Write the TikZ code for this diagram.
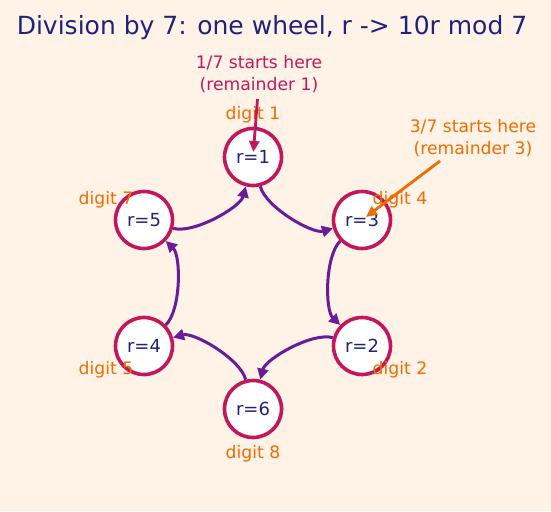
\documentclass[tikz,border=0pt]{standalone}
\usepackage{fontspec}
\setmainfont{DejaVu Sans}
\usetikzlibrary{arrows.meta}
\definecolor{bg}{HTML}{FFF2E7}
\definecolor{navy}{HTML}{1F237A}
\definecolor{crim}{HTML}{C2185B}
\definecolor{purp}{HTML}{6A1B9A}
\definecolor{orng}{HTML}{EF6C00}
\begin{document}
\begin{tikzpicture}[x=1pt,y=-1pt,
  state/.style={circle,draw=crim,fill=white,line width=3.6pt,minimum size=57pt,inner sep=0pt,
    text=navy,font=\fontsize{18}{20}\selectfont},
  digitlbl/.style={text=orng,font=\fontsize{17.2}{20}\selectfont,inner sep=0pt},
  flow/.style={draw=purp,line width=3pt,-{Stealth[length=11pt,width=11pt,inset=0pt]},
    bend right=46,looseness=0.65},
  note/.style={font=\fontsize{17.2}{22}\selectfont,align=center,inner sep=0pt},
  pointer/.style={line width=2.8pt,-{Stealth[length=11pt,width=10pt,inset=0pt]},shorten >=5pt}]
\useasboundingbox[fill=bg] (0,0) rectangle (551,511);
\node[text=navy,font=\fontsize{25}{28}\selectfont,anchor=base,inner sep=0pt] (title) at (272,35)
  {Division by 7: one wheel, r -> 10r mod 7};
% states
\node[state] (n1) at (253,157) {r=1};
\node[state] (n3) at (362,220) {r=3};
\node[state] (n2) at (362,346) {r=2};
\node[state] (n6) at (253,409) {r=6};
\node[state] (n4) at (144,346) {r=4};
\node[state] (n5) at (144,220) {r=5};
% transitions
\draw[flow] (n1) to (n3);
\draw[flow] (n3) to (n2);
\draw[flow] (n2) to (n6);
\draw[flow] (n6) to (n4);
\draw[flow] (n4) to (n5);
\draw[flow] (n5) to (n1);
% digit labels
\node[digitlbl] (d1) at (253,115) {digit 1};
\node[digitlbl] (d4) at (400,200) {digit 4};
\node[digitlbl] (d2) at (400,370) {digit 2};
\node[digitlbl] (d8) at (253,454) {digit 8};
\node[digitlbl] (d5) at (106,370) {digit 5};
\node[digitlbl] (d7) at (106,200) {digit 7};
% annotations
\node[note,text=crim] (t1) at (259,74.5) {1/7 starts here\\(remainder 1)};
\node[note,text=orng] (t3) at (473,138) {3/7 starts here\\(remainder 3)};
\coordinate (s1) at (257.5,99);
\coordinate (s3) at (440,161);
\draw[pointer,draw=crim,fill=crim] (s1) -- (n1.center);
\draw[pointer,draw=orng,fill=orng] (s3) -- (n3.center);
\end{tikzpicture}
\end{document}
